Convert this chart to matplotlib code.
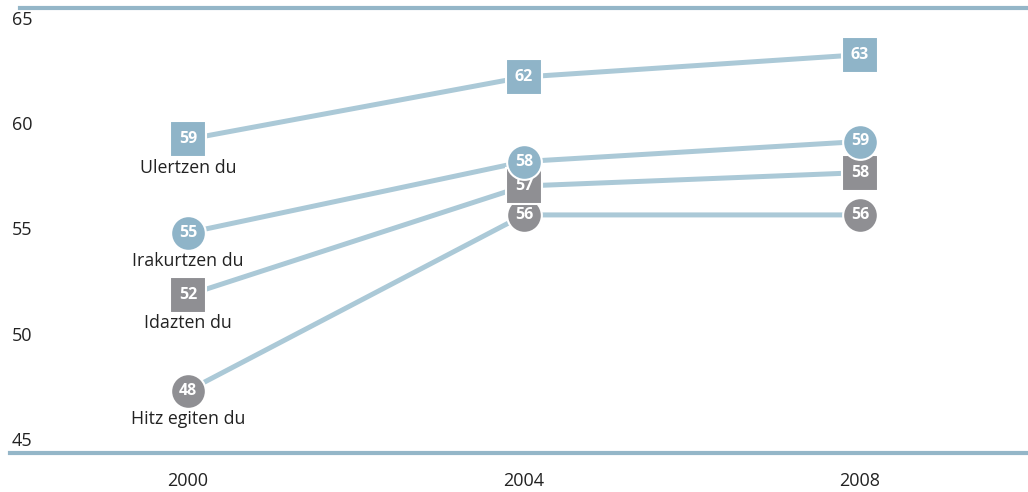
import matplotlib
matplotlib.use("Agg")
import matplotlib.pyplot as plt
import numpy as np

plt.rcParams['font.family'] = ['Open Sans', 'DejaVu Sans']

years = [2000, 2004, 2008]
names = ["Hitz egiten du", "Idazten du", "Irakurtzen du", "Ulertzen du"]
hitz = [47.8, 55.7, 55.7]
idazten = [52.1, 57.0, 57.6]
irakurtzen = [54.9, 58.1, 59.0]
ulertzen = [59.1, 61.9, 62.9]
labels = {
    "Hitz egiten du": ["48", "56", "56"],
    "Idazten du": ["52", "57", "58"],
    "Irakurtzen du": ["55", "58", "59"],
    "Ulertzen du": ["59", "62", "63"],
}
yticks = [65, 60, 55, 50, 45]

blue = "#8fb4c8"
grey = "#8f8f93"
line_col = "#abc9d7"
rule_col = "#94b6c8"
text_col = "#222222"

series = [
    ("Hitz egiten du", hitz, "o", grey),
    ("Idazten du", idazten, "s", grey),
    ("Irakurtzen du", irakurtzen, "o", blue),
    ("Ulertzen du", ulertzen, "s", blue),
]

fig = plt.figure(figsize=(10.28, 4.92), dpi=100)
ax = fig.add_axes([20 / 1028, 1 - 453 / 492, 1 - 20 / 1028, 445 / 492])
ax.set_xlim(1998, 2010)
ax.set_ylim(45, 65)

for name, vals, mk, col in series:
    ax.plot(years, vals, color=line_col, lw=3.6, solid_capstyle='butt', zorder=2)

z = 3
for name, vals, mk, col in series:
    ms = 26 if mk == "s" else 25
    ax.plot(years, vals, ls="none", marker=mk, ms=ms, mfc=col, mec="white",
            mew=1.5, zorder=z)
    for x, v, t in zip(years, vals, labels[name]):
        ax.text(x, v, t, color="white", fontsize=11.5, fontweight="bold",
                ha="center", va="center", zorder=z + 0.5)
    ax.annotate(name, (years[0], vals[0]), xytext=(0, -14), textcoords="offset points",
                ha="center", va="top", fontsize=12.8, color=text_col)
    z += 1

# top and bottom rules
ax.axhline(65, color=rule_col, lw=3, zorder=1, clip_on=False)
ax.axhline(45, xmin=-0.01, xmax=1, color=rule_col, lw=3, zorder=1, clip_on=False)

# y labels sit slightly inside the rules
for v in yticks:
    yl = 55 + (v - 55) * 0.945
    ax.text(-0.008, yl, str(v), transform=ax.get_yaxis_transform(), ha="left",
            va="center", fontsize=13, color=text_col)

ax.set_xticks(years)
ax.set_xticklabels([str(y) for y in years], fontsize=13, color=text_col)
ax.tick_params(axis="x", length=0, pad=14)
ax.set_yticks([])
for s in ax.spines.values():
    s.set_visible(False)

fig.savefig("out.png", dpi=100)
